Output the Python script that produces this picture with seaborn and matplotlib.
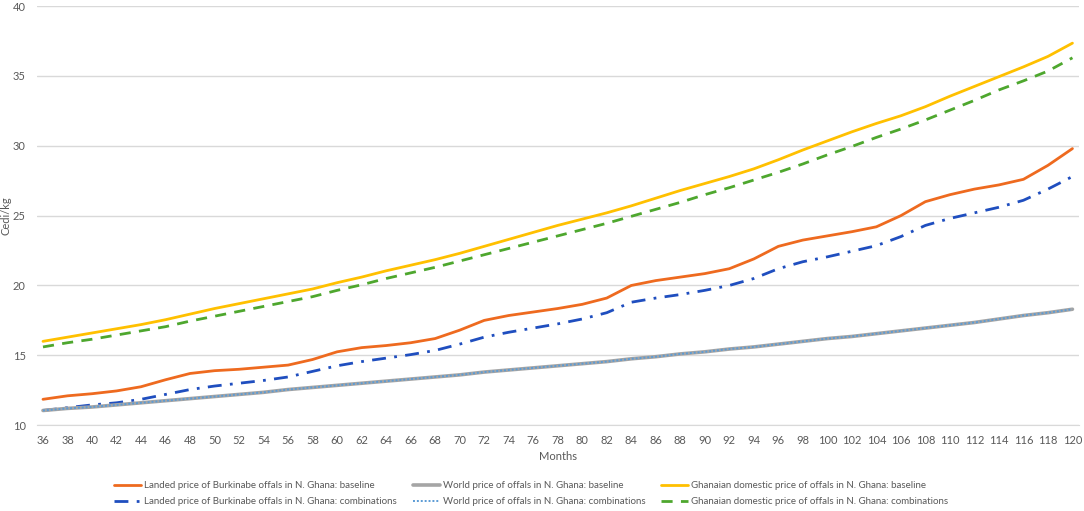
"""
Landed, world and domestic offal prices in N. Ghana, months 36-120.
"""

import numpy as np
import pandas as pd
import matplotlib
matplotlib.use("Agg")
import matplotlib.pyplot as plt
import seaborn as sns

months = list(range(36, 121, 2))

landed_baseline = [
    11.85, 12.1, 12.25, 12.45, 12.75, 13.25, 13.7, 13.9, 14.0, 14.15, 14.3,
    14.7, 15.25, 15.55, 15.7, 15.9, 16.2, 16.8, 17.5, 17.85, 18.1, 18.35,
    18.65, 19.1, 20.0, 20.35, 20.6, 20.85, 21.2, 21.9, 22.8, 23.25, 23.55,
    23.85, 24.2, 25.0, 26.0, 26.5, 26.9, 27.2, 27.6, 28.6, 29.8,
]
world_baseline = [
    11.05, 11.2, 11.3, 11.45, 11.6, 11.75, 11.9, 12.05, 12.2, 12.35, 12.55,
    12.7, 12.85, 13.0, 13.15, 13.3, 13.45, 13.6, 13.8, 13.95, 14.1, 14.25,
    14.4, 14.55, 14.75, 14.9, 15.1, 15.25, 15.45, 15.6, 15.8, 16.0, 16.2,
    16.35, 16.55, 16.75, 16.95, 17.15, 17.35, 17.6, 17.85, 18.05, 18.3,
]
ghana_baseline = [
    16.0, 16.3, 16.6, 16.9, 17.2, 17.55, 17.95, 18.35, 18.7, 19.05, 19.4,
    19.75, 20.2, 20.6, 21.05, 21.45, 21.85, 22.3, 22.8, 23.3, 23.8, 24.3,
    24.75, 25.2, 25.7, 26.25, 26.8, 27.3, 27.8, 28.35, 29.0, 29.7, 30.35,
    31.0, 31.6, 32.15, 32.8, 33.55, 34.25, 34.95, 35.65, 36.4, 37.35,
]
landed_combos = [
    11.05, 11.25, 11.45, 11.6, 11.85, 12.2, 12.55, 12.8, 13.0, 13.2, 13.45,
    13.85, 14.25, 14.55, 14.8, 15.05, 15.35, 15.8, 16.3, 16.65, 16.95, 17.25,
    17.6, 18.05, 18.8, 19.1, 19.35, 19.65, 20.0, 20.5, 21.2, 21.7, 22.05,
    22.45, 22.85, 23.5, 24.3, 24.8, 25.2, 25.6, 26.1, 26.9, 27.8,
]
world_combos = world_baseline
ghana_combos = [
    15.6, 15.9, 16.15, 16.45, 16.75, 17.05, 17.45, 17.8, 18.15, 18.5, 18.85,
    19.2, 19.65, 20.05, 20.5, 20.9, 21.3, 21.75, 22.2, 22.65, 23.1, 23.55,
    24.0, 24.45, 24.95, 25.45, 25.95, 26.5, 27.0, 27.55, 28.1, 28.7, 29.35,
    29.95, 30.6, 31.2, 31.85, 32.55, 33.25, 34.0, 34.65, 35.35, 36.3,
]

labels = {
    "lb": "Landed price of Burkinabe offals in N. Ghana: baseline",
    "wb": "World price of offals in N. Ghana: baseline",
    "gb": "Ghanaian domestic price of offals in N. Ghana: baseline",
    "lc": "Landed price of Burkinabe offals in N. Ghana: combinations",
    "wc": "World price of offals in N. Ghana: combinations",
    "gc": "Ghanaian domestic price of offals in N. Ghana: combinations",
}

sns.set_style("white")
plt.rcParams["font.family"] = ["Lato", "DejaVu Sans"]
text_col = "#595959"

fig = plt.figure(figsize=(10.84, 5.11), dpi=100)
ax = fig.add_axes([0.034, 0.168, 0.961, 0.820])

series = [
    ("lb", landed_baseline, "#EE6A1F", "-", 2.0),
    ("lc", landed_combos, "#1F4EBF", (0, (5, 3, 1, 3)), 2.0),
    ("wb", world_baseline, "#A5A5A5", "-", 2.6),
    ("wc", world_combos, "#5B9BD5", (0, (1, 1)), 1.4),
    ("gb", ghana_baseline, "#FFC000", "-", 2.0),
    ("gc", ghana_combos, "#4EA72E", (0, (4, 3)), 2.0),
]
handles = []
for key, vals, col, ls, lw in series:
    df = pd.DataFrame({"Month": months, "Price": vals})
    sns.lineplot(data=df, x="Month", y="Price", color=col, linestyle=ls,
                 linewidth=lw, ax=ax, label=labels[key], legend=False,
                 solid_joinstyle="round")
    handles.append(ax.lines[-1])

ax.set_xlim(35.5, 120.5)
ax.set_ylim(10, 40)
ax.set_xticks(months)
ax.set_yticks(np.arange(10, 41, 5))
ax.grid(axis="y", color="#D9D9D9", linewidth=1)
ax.set_axisbelow(True)
for s in ["top", "right", "left"]:
    ax.spines[s].set_visible(False)
ax.spines["bottom"].set_color("#D9D9D9")
ax.tick_params(axis="both", length=0, labelsize=8, labelcolor=text_col)
ax.tick_params(axis="x", pad=7)
ax.tick_params(axis="y", pad=8)
ax.set_xlabel("Months", fontsize=8, color=text_col, labelpad=4)
ax.set_ylabel("Cedi/kg", fontsize=8, color=text_col)
ax.yaxis.set_label_coords(-0.024, 0.5)

fig.legend(handles, [h.get_label() for h in handles], ncol=3,
           loc="center", bbox_to_anchor=(0.49, 0.034), frameon=False,
           fontsize=7, labelcolor=text_col, handlelength=2.8,
           handletextpad=0.3, columnspacing=1.6, labelspacing=0.75)

plt.savefig("out.png", dpi=100)
plt.close()
